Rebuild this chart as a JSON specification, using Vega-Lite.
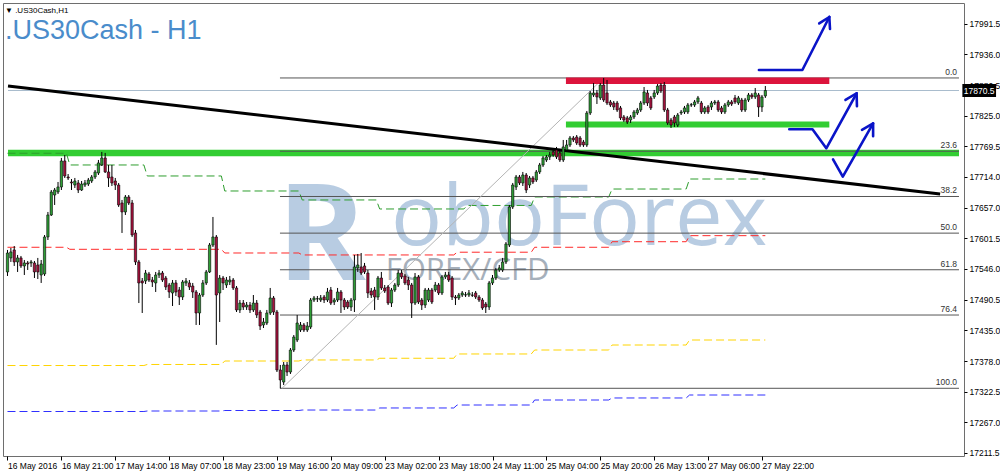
{
"$schema":"https://vega.github.io/schema/vega-lite/v6.json",
"width":961,"height":453,
"autosize":{"type":"none"},
"padding":{"left":3,"top":3,"right":36,"bottom":19},
"background":"white",
"title":{"text":"▼ .US30Cash,H1","subtitle":".US30Cash - H1","anchor":"start","frame":"group","orient":"top","offset":-41,"dx":2,"font":"Liberation Sans","fontSize":8,"fontWeight":"normal","color":"#000000","subtitleFont":"Liberation Sans","subtitleFontSize":27,"subtitleColor":"#4A8CCB","subtitlePadding":3},
"config":{"view":{"stroke":"#6E6E6E","strokeWidth":1},
 "axis":{"labelFont":"Liberation Sans","labelFontSize":8.5,"labelColor":"#000000","tickColor":"#000000","domain":false,"grid":false,"labelOverlap":false,"labelFlush":false,"labelBound":false}},
"datasets":{
"candles":[
{"i":0,"o":17540.6,"h":17580.6,"l":17533.3,"c":17575.1},
{"i":1,"o":17566.1,"h":17584.2,"l":17558.8,"c":17577.0},
{"i":2,"o":17580.6,"h":17587.8,"l":17551.5,"c":17558.8},
{"i":3,"o":17558.8,"h":17571.5,"l":17540.6,"c":17566.1},
{"i":4,"o":17566.1,"h":17569.7,"l":17547.9,"c":17551.5},
{"i":5,"o":17551.5,"h":17562.4,"l":17535.1,"c":17557.0},
{"i":6,"o":17557.0,"h":17560.6,"l":17544.2,"c":17555.1},
{"i":7,"o":17557.0,"h":17562.4,"l":17549.7,"c":17558.8},
{"i":8,"o":17557.0,"h":17560.6,"l":17529.6,"c":17540.6},
{"i":9,"o":17553.3,"h":17566.1,"l":17527.8,"c":17540.6},
{"i":10,"o":17535.1,"h":17562.4,"l":17520.6,"c":17555.1},
{"i":11,"o":17536.9,"h":17607.8,"l":17533.3,"c":17604.2},
{"i":12,"o":17604.2,"h":17649.7,"l":17598.7,"c":17644.2},
{"i":13,"o":17644.2,"h":17689.6,"l":17642.4,"c":17686.0},
{"i":14,"o":17680.5,"h":17693.3,"l":17662.4,"c":17689.6},
{"i":15,"o":17686.0,"h":17704.2,"l":17682.3,"c":17695.1},
{"i":16,"o":17695.1,"h":17747.9,"l":17689.6,"c":17742.4},
{"i":17,"o":17742.4,"h":17753.3,"l":17711.5,"c":17715.1},
{"i":18,"o":17713.3,"h":17718.7,"l":17707.8,"c":17711.5},
{"i":19,"o":17704.2,"h":17709.6,"l":17689.6,"c":17702.4},
{"i":20,"o":17698.7,"h":17711.5,"l":17693.3,"c":17706.0},
{"i":21,"o":17702.4,"h":17707.8,"l":17684.1,"c":17689.6},
{"i":22,"o":17689.6,"h":17706.0,"l":17687.8,"c":17700.5},
{"i":23,"o":17698.7,"h":17707.8,"l":17695.1,"c":17702.4},
{"i":24,"o":17700.5,"h":17711.5,"l":17696.9,"c":17707.8},
{"i":25,"o":17706.0,"h":17716.9,"l":17702.4,"c":17713.3},
{"i":26,"o":17713.3,"h":17726.0,"l":17709.6,"c":17722.4},
{"i":27,"o":17720.5,"h":17744.2,"l":17716.9,"c":17738.8},
{"i":28,"o":17735.1,"h":17758.8,"l":17733.3,"c":17747.9},
{"i":29,"o":17747.9,"h":17757.0,"l":17720.5,"c":17722.4},
{"i":30,"o":17722.4,"h":17735.1,"l":17695.1,"c":17711.5},
{"i":31,"o":17713.3,"h":17735.1,"l":17696.9,"c":17702.4},
{"i":32,"o":17706.0,"h":17711.5,"l":17689.6,"c":17698.7},
{"i":33,"o":17698.7,"h":17702.4,"l":17658.8,"c":17662.4},
{"i":34,"o":17666.0,"h":17671.5,"l":17611.5,"c":17649.7},
{"i":35,"o":17649.7,"h":17680.5,"l":17644.2,"c":17676.9},
{"i":36,"o":17676.9,"h":17680.5,"l":17662.4,"c":17666.0},
{"i":37,"o":17666.0,"h":17671.5,"l":17604.2,"c":17607.8},
{"i":38,"o":17611.5,"h":17616.9,"l":17553.3,"c":17558.8},
{"i":39,"o":17558.8,"h":17562.4,"l":17484.1,"c":17520.6},
{"i":40,"o":17524.2,"h":17529.6,"l":17466.0,"c":17520.6},
{"i":41,"o":17524.2,"h":17544.2,"l":17518.7,"c":17538.7},
{"i":42,"o":17536.9,"h":17540.6,"l":17522.4,"c":17526.0},
{"i":43,"o":17526.0,"h":17531.5,"l":17513.3,"c":17522.4},
{"i":44,"o":17520.6,"h":17540.6,"l":17504.2,"c":17535.1},
{"i":45,"o":17535.1,"h":17544.2,"l":17529.6,"c":17538.7},
{"i":46,"o":17538.7,"h":17542.4,"l":17522.4,"c":17526.0},
{"i":47,"o":17529.6,"h":17533.3,"l":17507.8,"c":17513.3},
{"i":48,"o":17516.9,"h":17520.6,"l":17493.3,"c":17504.2},
{"i":49,"o":17502.4,"h":17526.0,"l":17478.7,"c":17520.6},
{"i":50,"o":17520.6,"h":17526.0,"l":17496.9,"c":17504.2},
{"i":51,"o":17507.8,"h":17513.3,"l":17480.5,"c":17495.1},
{"i":52,"o":17495.1,"h":17526.0,"l":17489.6,"c":17522.4},
{"i":53,"o":17520.6,"h":17529.6,"l":17515.1,"c":17524.2},
{"i":54,"o":17520.6,"h":17526.0,"l":17507.8,"c":17513.3},
{"i":55,"o":17515.1,"h":17520.6,"l":17493.3,"c":17504.2},
{"i":56,"o":17504.2,"h":17507.8,"l":17444.2,"c":17466.0},
{"i":57,"o":17466.0,"h":17502.4,"l":17444.2,"c":17498.7},
{"i":58,"o":17498.7,"h":17526.0,"l":17495.1,"c":17520.6},
{"i":59,"o":17520.6,"h":17544.2,"l":17516.9,"c":17540.6},
{"i":60,"o":17540.6,"h":17593.3,"l":17538.7,"c":17589.6},
{"i":61,"o":17589.6,"h":17640.6,"l":17586.0,"c":17604.2},
{"i":62,"o":17604.2,"h":17607.8,"l":17408.0,"c":17498.7},
{"i":63,"o":17502.4,"h":17535.1,"l":17449.6,"c":17529.6},
{"i":64,"o":17529.6,"h":17533.3,"l":17507.8,"c":17520.6},
{"i":65,"o":17516.9,"h":17531.5,"l":17511.5,"c":17526.0},
{"i":66,"o":17522.4,"h":17533.3,"l":17516.9,"c":17526.0},
{"i":67,"o":17526.0,"h":17529.6,"l":17507.8,"c":17511.5},
{"i":68,"o":17511.5,"h":17515.1,"l":17467.8,"c":17471.5},
{"i":69,"o":17471.5,"h":17489.6,"l":17466.0,"c":17484.1},
{"i":70,"o":17484.1,"h":17489.6,"l":17471.5,"c":17476.9},
{"i":71,"o":17476.9,"h":17486.0,"l":17471.5,"c":17480.5},
{"i":72,"o":17480.5,"h":17486.0,"l":17466.0,"c":17471.5},
{"i":73,"o":17471.5,"h":17498.7,"l":17467.8,"c":17484.1},
{"i":74,"o":17484.1,"h":17489.6,"l":17456.9,"c":17462.4},
{"i":75,"o":17467.8,"h":17471.5,"l":17435.1,"c":17442.4},
{"i":76,"o":17444.2,"h":17456.9,"l":17438.7,"c":17449.6},
{"i":77,"o":17447.8,"h":17471.5,"l":17444.2,"c":17466.0},
{"i":78,"o":17466.0,"h":17511.5,"l":17462.4,"c":17493.3},
{"i":79,"o":17493.3,"h":17496.9,"l":17462.4,"c":17467.8},
{"i":80,"o":17467.8,"h":17471.5,"l":17358.7,"c":17362.4},
{"i":81,"o":17362.4,"h":17371.5,"l":17329.1,"c":17344.2},
{"i":82,"o":17340.5,"h":17376.9,"l":17335.1,"c":17371.5},
{"i":83,"o":17371.5,"h":17376.9,"l":17351.5,"c":17358.7},
{"i":84,"o":17358.7,"h":17402.3,"l":17355.1,"c":17398.7},
{"i":85,"o":17398.7,"h":17426.0,"l":17395.1,"c":17422.3},
{"i":86,"o":17416.9,"h":17462.4,"l":17413.2,"c":17447.8},
{"i":87,"o":17435.1,"h":17449.6,"l":17431.5,"c":17444.2},
{"i":88,"o":17444.2,"h":17447.8,"l":17431.5,"c":17435.1},
{"i":89,"o":17435.1,"h":17449.6,"l":17431.5,"c":17442.4},
{"i":90,"o":17440.5,"h":17493.3,"l":17436.9,"c":17489.6},
{"i":91,"o":17489.6,"h":17496.9,"l":17486.0,"c":17493.3},
{"i":92,"o":17491.5,"h":17496.9,"l":17486.0,"c":17492.0},
{"i":93,"o":17489.6,"h":17498.7,"l":17486.0,"c":17493.3},
{"i":94,"o":17495.1,"h":17498.7,"l":17484.1,"c":17489.6},
{"i":95,"o":17489.6,"h":17511.5,"l":17486.0,"c":17504.2},
{"i":96,"o":17507.8,"h":17513.3,"l":17480.5,"c":17484.1},
{"i":97,"o":17486.0,"h":17493.3,"l":17480.5,"c":17489.6},
{"i":98,"o":17489.6,"h":17511.5,"l":17486.0,"c":17504.2},
{"i":99,"o":17504.2,"h":17507.8,"l":17466.0,"c":17489.6},
{"i":100,"o":17489.6,"h":17493.3,"l":17471.5,"c":17476.9},
{"i":101,"o":17486.0,"h":17489.6,"l":17473.3,"c":17476.9},
{"i":102,"o":17476.9,"h":17493.3,"l":17469.6,"c":17489.6},
{"i":103,"o":17489.6,"h":17571.5,"l":17467.8,"c":17549.7},
{"i":104,"o":17547.9,"h":17573.3,"l":17540.6,"c":17553.3},
{"i":105,"o":17549.7,"h":17575.1,"l":17535.1,"c":17538.7},
{"i":106,"o":17551.5,"h":17557.0,"l":17536.9,"c":17540.6},
{"i":107,"o":17538.7,"h":17544.2,"l":17493.3,"c":17502.4},
{"i":108,"o":17506.0,"h":17511.5,"l":17493.3,"c":17498.7},
{"i":109,"o":17507.8,"h":17513.3,"l":17471.5,"c":17495.1},
{"i":110,"o":17495.1,"h":17533.3,"l":17489.6,"c":17529.6},
{"i":111,"o":17529.6,"h":17540.6,"l":17507.8,"c":17511.5},
{"i":112,"o":17511.5,"h":17516.9,"l":17502.4,"c":17506.0},
{"i":113,"o":17513.3,"h":17516.9,"l":17480.5,"c":17484.1},
{"i":114,"o":17484.1,"h":17511.5,"l":17476.9,"c":17507.8},
{"i":115,"o":17507.8,"h":17520.6,"l":17504.2,"c":17516.9},
{"i":116,"o":17516.9,"h":17544.2,"l":17513.3,"c":17538.7},
{"i":117,"o":17538.7,"h":17544.2,"l":17527.8,"c":17531.5},
{"i":118,"o":17533.3,"h":17536.9,"l":17516.9,"c":17520.6},
{"i":119,"o":17526.0,"h":17531.5,"l":17507.8,"c":17516.9},
{"i":120,"o":17516.9,"h":17520.6,"l":17456.9,"c":17484.1},
{"i":121,"o":17484.1,"h":17538.7,"l":17480.5,"c":17531.5},
{"i":122,"o":17531.5,"h":17535.1,"l":17482.3,"c":17486.0},
{"i":123,"o":17489.6,"h":17493.3,"l":17471.5,"c":17480.5},
{"i":124,"o":17480.5,"h":17511.5,"l":17475.1,"c":17507.8},
{"i":125,"o":17489.6,"h":17511.5,"l":17486.0,"c":17507.8},
{"i":126,"o":17507.8,"h":17511.5,"l":17482.3,"c":17486.0},
{"i":127,"o":17507.8,"h":17522.4,"l":17504.2,"c":17516.9},
{"i":128,"o":17516.9,"h":17520.6,"l":17498.7,"c":17502.4},
{"i":129,"o":17502.4,"h":17535.1,"l":17498.7,"c":17531.5},
{"i":130,"o":17531.5,"h":17540.6,"l":17527.8,"c":17535.1},
{"i":131,"o":17535.1,"h":17540.6,"l":17522.4,"c":17526.0},
{"i":132,"o":17529.6,"h":17533.3,"l":17489.6,"c":17495.1},
{"i":133,"o":17495.1,"h":17498.7,"l":17480.5,"c":17493.3},
{"i":134,"o":17493.3,"h":17502.4,"l":17489.6,"c":17498.7},
{"i":135,"o":17498.7,"h":17506.0,"l":17495.1,"c":17502.4},
{"i":136,"o":17498.7,"h":17504.2,"l":17495.1,"c":17499.2},
{"i":137,"o":17498.7,"h":17507.8,"l":17495.1,"c":17502.4},
{"i":138,"o":17498.7,"h":17504.2,"l":17495.1,"c":17498.2},
{"i":139,"o":17502.4,"h":17506.0,"l":17491.5,"c":17495.1},
{"i":140,"o":17495.1,"h":17498.7,"l":17486.0,"c":17489.6},
{"i":141,"o":17489.6,"h":17493.3,"l":17471.5,"c":17475.1},
{"i":142,"o":17482.3,"h":17486.0,"l":17466.0,"c":17476.9},
{"i":143,"o":17476.9,"h":17524.2,"l":17471.5,"c":17520.6},
{"i":144,"o":17520.6,"h":17535.1,"l":17516.9,"c":17529.6},
{"i":145,"o":17529.6,"h":17547.9,"l":17526.0,"c":17544.2},
{"i":146,"o":17544.2,"h":17553.3,"l":17540.6,"c":17547.9},
{"i":147,"o":17544.2,"h":17566.1,"l":17540.6,"c":17558.8},
{"i":148,"o":17558.8,"h":17595.1,"l":17555.1,"c":17591.5},
{"i":149,"o":17589.6,"h":17662.4,"l":17586.0,"c":17658.8},
{"i":150,"o":17658.8,"h":17702.4,"l":17655.1,"c":17698.7},
{"i":151,"o":17695.1,"h":17716.9,"l":17689.6,"c":17713.3},
{"i":152,"o":17713.3,"h":17716.9,"l":17698.7,"c":17702.4},
{"i":153,"o":17702.4,"h":17722.4,"l":17696.9,"c":17716.9},
{"i":154,"o":17716.9,"h":17720.5,"l":17684.1,"c":17689.6},
{"i":155,"o":17698.7,"h":17715.1,"l":17693.3,"c":17711.5},
{"i":156,"o":17711.5,"h":17715.1,"l":17700.5,"c":17704.2},
{"i":157,"o":17707.8,"h":17726.0,"l":17704.2,"c":17722.4},
{"i":158,"o":17722.4,"h":17738.8,"l":17718.7,"c":17735.1},
{"i":159,"o":17735.1,"h":17751.5,"l":17731.5,"c":17747.9},
{"i":160,"o":17744.2,"h":17753.3,"l":17740.6,"c":17749.7},
{"i":161,"o":17749.7,"h":17758.8,"l":17744.2,"c":17753.3},
{"i":162,"o":17758.8,"h":17762.4,"l":17749.7,"c":17753.3},
{"i":163,"o":17762.4,"h":17767.9,"l":17746.0,"c":17749.7},
{"i":164,"o":17757.0,"h":17764.2,"l":17740.6,"c":17744.2},
{"i":165,"o":17744.2,"h":17780.6,"l":17740.6,"c":17767.9},
{"i":166,"o":17762.4,"h":17780.6,"l":17758.8,"c":17771.5},
{"i":167,"o":17771.5,"h":17787.8,"l":17767.9,"c":17784.2},
{"i":168,"o":17784.2,"h":17787.8,"l":17776.9,"c":17780.6},
{"i":169,"o":17786.0,"h":17789.6,"l":17771.5,"c":17775.1},
{"i":170,"o":17784.2,"h":17787.8,"l":17767.9,"c":17771.5},
{"i":171,"o":17776.9,"h":17780.6,"l":17767.9,"c":17771.5},
{"i":172,"o":17771.5,"h":17833.3,"l":17767.9,"c":17829.6},
{"i":173,"o":17829.6,"h":17869.7,"l":17826.0,"c":17866.0},
{"i":174,"o":17862.4,"h":17884.1,"l":17858.8,"c":17866.0},
{"i":175,"o":17866.0,"h":17871.5,"l":17846.0,"c":17858.8},
{"i":176,"o":17857.0,"h":17884.1,"l":17853.3,"c":17880.5},
{"i":177,"o":17880.5,"h":17893.3,"l":17849.7,"c":17853.3},
{"i":178,"o":17866.0,"h":17889.6,"l":17844.2,"c":17847.8},
{"i":179,"o":17849.7,"h":17853.3,"l":17840.6,"c":17844.2},
{"i":180,"o":17847.8,"h":17851.5,"l":17835.1,"c":17840.6},
{"i":181,"o":17847.8,"h":17851.5,"l":17831.5,"c":17835.1},
{"i":182,"o":17838.8,"h":17842.4,"l":17816.9,"c":17820.6},
{"i":183,"o":17822.4,"h":17826.0,"l":17813.3,"c":17816.9},
{"i":184,"o":17820.6,"h":17824.2,"l":17809.6,"c":17813.3},
{"i":185,"o":17816.9,"h":17826.0,"l":17811.5,"c":17822.4},
{"i":186,"o":17822.4,"h":17835.1,"l":17818.7,"c":17831.5},
{"i":187,"o":17829.6,"h":17838.8,"l":17826.0,"c":17835.1},
{"i":188,"o":17835.1,"h":17851.5,"l":17831.5,"c":17847.8},
{"i":189,"o":17847.8,"h":17876.9,"l":17844.2,"c":17867.9},
{"i":190,"o":17866.0,"h":17871.5,"l":17842.4,"c":17847.8},
{"i":191,"o":17857.0,"h":17860.6,"l":17835.1,"c":17838.8},
{"i":192,"o":17858.8,"h":17871.5,"l":17855.1,"c":17866.0},
{"i":193,"o":17866.0,"h":17882.3,"l":17862.4,"c":17878.7},
{"i":194,"o":17880.5,"h":17884.1,"l":17866.0,"c":17869.7},
{"i":195,"o":17880.5,"h":17885.9,"l":17831.5,"c":17835.1},
{"i":196,"o":17835.1,"h":17838.8,"l":17807.8,"c":17811.5},
{"i":197,"o":17816.9,"h":17820.6,"l":17802.4,"c":17807.8},
{"i":198,"o":17822.4,"h":17826.0,"l":17804.2,"c":17811.5},
{"i":199,"o":17807.8,"h":17829.6,"l":17804.2,"c":17826.0},
{"i":200,"o":17829.6,"h":17835.1,"l":17826.0,"c":17831.5},
{"i":201,"o":17831.5,"h":17842.4,"l":17827.8,"c":17838.8},
{"i":202,"o":17831.5,"h":17847.8,"l":17827.8,"c":17844.2},
{"i":203,"o":17844.2,"h":17847.8,"l":17840.6,"c":17844.7},
{"i":204,"o":17844.2,"h":17853.3,"l":17840.6,"c":17849.7},
{"i":205,"o":17849.7,"h":17860.6,"l":17846.0,"c":17857.0},
{"i":206,"o":17847.8,"h":17851.5,"l":17827.8,"c":17831.5},
{"i":207,"o":17831.5,"h":17842.4,"l":17827.8,"c":17838.8},
{"i":208,"o":17840.6,"h":17844.2,"l":17827.8,"c":17831.5},
{"i":209,"o":17840.6,"h":17851.5,"l":17835.1,"c":17847.8},
{"i":210,"o":17847.8,"h":17853.3,"l":17844.2,"c":17849.7},
{"i":211,"o":17849.7,"h":17853.3,"l":17831.5,"c":17835.1},
{"i":212,"o":17838.8,"h":17842.4,"l":17827.8,"c":17831.5},
{"i":213,"o":17831.5,"h":17847.8,"l":17827.8,"c":17844.2},
{"i":214,"o":17844.2,"h":17853.3,"l":17840.6,"c":17849.7},
{"i":215,"o":17849.7,"h":17853.3,"l":17842.4,"c":17846.0},
{"i":216,"o":17857.0,"h":17862.4,"l":17846.0,"c":17849.7},
{"i":217,"o":17847.8,"h":17860.6,"l":17844.2,"c":17857.0},
{"i":218,"o":17853.3,"h":17857.0,"l":17831.5,"c":17835.1},
{"i":219,"o":17835.1,"h":17857.0,"l":17831.5,"c":17853.3},
{"i":220,"o":17853.3,"h":17866.0,"l":17849.7,"c":17862.4},
{"i":221,"o":17862.4,"h":17866.0,"l":17855.1,"c":17858.8},
{"i":222,"o":17858.8,"h":17875.1,"l":17855.1,"c":17866.0},
{"i":223,"o":17862.4,"h":17866.0,"l":17822.4,"c":17840.6},
{"i":224,"o":17840.6,"h":17862.4,"l":17831.5,"c":17858.8},
{"i":225,"o":17860.6,"h":17878.7,"l":17857.0,"c":17870.5}
],
"steps":[
{"s":"g","i":0,"p":17756.4},{"s":"g","i":17.5,"p":17756.4},{"s":"g","i":18.5,"p":17735.1},{"s":"g","i":40.5,"p":17735.1},{"s":"g","i":41.5,"p":17715.1},{"s":"g","i":63.5,"p":17715.1},{"s":"g","i":64.5,"p":17687.8},{"s":"g","i":86.5,"p":17687.8},{"s":"g","i":87.5,"p":17671.5},{"s":"g","i":109.5,"p":17671.5},{"s":"g","i":110.5,"p":17655.1},{"s":"g","i":135.5,"p":17655.1},{"s":"g","i":136.5,"p":17661.5},{"s":"g","i":155.5,"p":17661.5},{"s":"g","i":156.5,"p":17676.9},{"s":"g","i":178.5,"p":17676.9},{"s":"g","i":179.5,"p":17691.4},{"s":"g","i":201.5,"p":17691.4},{"s":"g","i":202.5,"p":17709.6},{"s":"g","i":225,"p":17709.6},
{"s":"r","i":0,"p":17585.5},{"s":"r","i":17.5,"p":17585.5},{"s":"r","i":18.5,"p":17581.8},{"s":"r","i":63.5,"p":17581.8},{"s":"r","i":64.5,"p":17575.1},{"s":"r","i":86.5,"p":17575.1},{"s":"r","i":87.5,"p":17571.5},{"s":"r","i":132.5,"p":17571.5},{"s":"r","i":133.5,"p":17576.5},{"s":"r","i":155.5,"p":17576.5},{"s":"r","i":156.5,"p":17585.5},{"s":"r","i":178.5,"p":17585.5},{"s":"r","i":179.5,"p":17595.6},{"s":"r","i":201.5,"p":17595.6},{"s":"r","i":202.5,"p":17606.6},{"s":"r","i":225,"p":17606.6},
{"s":"y","i":0,"p":17370.5},{"s":"y","i":40.5,"p":17370.5},{"s":"y","i":41.5,"p":17372.4},{"s":"y","i":63.5,"p":17372.4},{"s":"y","i":64.5,"p":17378.7},{"s":"y","i":86.5,"p":17378.7},{"s":"y","i":87.5,"p":17380.6},{"s":"y","i":109.5,"p":17380.6},{"s":"y","i":110.5,"p":17383.7},{"s":"y","i":132.5,"p":17383.7},{"s":"y","i":133.5,"p":17391.5},{"s":"y","i":155.5,"p":17391.5},{"s":"y","i":156.5,"p":17398.7},{"s":"y","i":178.5,"p":17398.7},{"s":"y","i":179.5,"p":17407.8},{"s":"y","i":201.5,"p":17407.8},{"s":"y","i":202.5,"p":17416.9},{"s":"y","i":225,"p":17416.9},
{"s":"b","i":0,"p":17286.9},{"s":"b","i":40.5,"p":17286.9},{"s":"b","i":41.5,"p":17287.8},{"s":"b","i":63.5,"p":17287.8},{"s":"b","i":64.5,"p":17288.7},{"s":"b","i":86.5,"p":17288.7},{"s":"b","i":87.5,"p":17289.6},{"s":"b","i":109.5,"p":17289.6},{"s":"b","i":110.5,"p":17293.3},{"s":"b","i":132.5,"p":17293.3},{"s":"b","i":133.5,"p":17298.7},{"s":"b","i":155.5,"p":17298.7},{"s":"b","i":156.5,"p":17307.8},{"s":"b","i":178.5,"p":17307.8},{"s":"b","i":179.5,"p":17311.5},{"s":"b","i":201.5,"p":17311.5},{"s":"b","i":202.5,"p":17316.9},{"s":"b","i":225,"p":17316.9}
],
"hl":[
{"k":"band","i":0.15,"i2":282.5,"p":17757.0},
{"k":"red","i":165.8,"i2":244.0,"p":17888.1},
{"k":"grn","i":165.8,"i2":244.0,"p":17808.7},
{"k":"cur","i":0.15,"i2":282.5,"p":17870.5}
],
"fib":[
{"lvl":"0.0","i":80.9,"i2":282.5,"p":17893.3},
{"lvl":"23.6","i":80.9,"i2":282.5,"p":17760.1},
{"lvl":"38.2","i":80.9,"i2":282.5,"p":17677.8},
{"lvl":"50.0","i":80.9,"i2":282.5,"p":17611.2},
{"lvl":"61.8","i":80.9,"i2":282.5,"p":17544.6},
{"lvl":"76.4","i":80.9,"i2":282.5,"p":17462.3},
{"lvl":"100.0","i":80.9,"i2":282.5,"p":17329.1}
],
"fibdiag":[{"i":81.5,"p":17329.1},{"i":177.0,"p":17893.3}],
"trend":[{"i":0.15,"p":17878.7},{"i":276.9,"p":17682.3}],
"arrows":[
{"g":"a1","k":0,"i":223.1,"p":17907.8},{"g":"a1","k":1,"i":236.0,"p":17907.8},{"g":"a1","k":2,"i":244.0,"p":18004.2},
{"g":"h1","k":0,"i":241.0,"p":17992.4},{"g":"h1","k":1,"i":244.0,"p":18004.2},{"g":"h1","k":2,"i":244.2,"p":17982.4},
{"g":"a2","k":0,"i":232.1,"p":17800.0},{"g":"a2","k":1,"i":239.0,"p":17800.0},{"g":"a2","k":2,"i":243.1,"p":17765.5},{"g":"a2","k":3,"i":252.1,"p":17865.5},
{"g":"h2","k":0,"i":248.8,"p":17853.3},{"g":"h2","k":1,"i":252.1,"p":17865.5},{"g":"h2","k":2,"i":252.2,"p":17841.8},
{"g":"a3","k":0,"i":245.1,"p":17745.5},{"g":"a3","k":1,"i":248.0,"p":17713.8},{"g":"a3","k":2,"i":257.0,"p":17810.9},
{"g":"h3","k":0,"i":253.7,"p":17799.1},{"g":"h3","k":1,"i":257.0,"p":17810.9},{"g":"h3","k":2,"i":257.0,"p":17787.3}
],
"wm":[
{"t":"R","i":93.2,"p":17526.0},
{"t":"oboForex","i":169.7,"p":17589.6},
{"t":"FOREX/CFD","i":136.6,"p":17526.0}
],
"box":[{"i":283.5,"i2":293.5,"p":17858.7,"p2":17882.3,"ic":288.5,"pc":17870.5,"t":"17870.5"}]
},
"layer":[
{"data":{"name":"wm"},"transform":[{"filter":"datum.t=='R'"}],
 "mark":{"type":"text","font":"Open Sans","fontWeight":"bold","fontSize":135,"fill":"#B8CCE2","align":"center","baseline":"alphabetic"},
 "encoding":{"x":{"field":"i","type":"quantitative","scale":{"domain":[0.15,282.5],"nice":false,"zero":false},"axis":{"orient":"bottom","values":[0,16,32,48,64,80,96,112,128,144,160,176,192,208,224],"labelExpr":"['16 May 2016','16 May 21:00','17 May 14:00','18 May 07:00','18 May 23:00','19 May 16:00','20 May 09:00','23 May 02:00','23 May 18:00','24 May 11:00','25 May 04:00','25 May 20:00','26 May 13:00','27 May 06:00','27 May 22:00'][round(datum.value/16)]","labelAlign":"left","tickSize":4,"labelPadding":1,"title":null}},
  "y":{"field":"p","type":"quantitative","scale":{"domain":[17206,18029.6],"nice":false,"zero":false},"axis":{"orient":"right","values":[17211.5,17267.0,17322.5,17378.0,17435.0,17490.5,17546.0,17601.5,17657.0,17714.0,17769.5,17825.0,17880.5,17936.0,17991.5],"format":".1f","tickSize":3,"labelPadding":2,"title":null}},
  "text":{"field":"t"}}},
{"data":{"name":"wm"},"transform":[{"filter":"datum.t=='oboForex'"}],
 "mark":{"type":"text","font":"Open Sans","fontSize":85,"fill":"#B8CCE2","align":"center","baseline":"alphabetic"},
 "encoding":{"x":{"field":"i","type":"quantitative","scale":{"domain":[0.15,282.5],"nice":false,"zero":false},"axis":{"orient":"bottom","values":[0,16,32,48,64,80,96,112,128,144,160,176,192,208,224],"labelExpr":"['16 May 2016','16 May 21:00','17 May 14:00','18 May 07:00','18 May 23:00','19 May 16:00','20 May 09:00','23 May 02:00','23 May 18:00','24 May 11:00','25 May 04:00','25 May 20:00','26 May 13:00','27 May 06:00','27 May 22:00'][round(datum.value/16)]","labelAlign":"left","tickSize":4,"labelPadding":1,"title":null}},
  "y":{"field":"p","type":"quantitative","scale":{"domain":[17206,18029.6],"nice":false,"zero":false},"axis":{"orient":"right","values":[17211.5,17267.0,17322.5,17378.0,17435.0,17490.5,17546.0,17601.5,17657.0,17714.0,17769.5,17825.0,17880.5,17936.0,17991.5],"format":".1f","tickSize":3,"labelPadding":2,"title":null}},
  "text":{"field":"t"}}},
{"data":{"name":"wm"},"transform":[{"filter":"datum.t=='FOREX/CFD'"}],
 "mark":{"type":"text","font":"Open Sans","fontSize":31,"fill":"#A6B0BB","align":"center","baseline":"alphabetic"},
 "encoding":{"x":{"field":"i","type":"quantitative","scale":{"domain":[0.15,282.5],"nice":false,"zero":false},"axis":{"orient":"bottom","values":[0,16,32,48,64,80,96,112,128,144,160,176,192,208,224],"labelExpr":"['16 May 2016','16 May 21:00','17 May 14:00','18 May 07:00','18 May 23:00','19 May 16:00','20 May 09:00','23 May 02:00','23 May 18:00','24 May 11:00','25 May 04:00','25 May 20:00','26 May 13:00','27 May 06:00','27 May 22:00'][round(datum.value/16)]","labelAlign":"left","tickSize":4,"labelPadding":1,"title":null}},
  "y":{"field":"p","type":"quantitative","scale":{"domain":[17206,18029.6],"nice":false,"zero":false},"axis":{"orient":"right","values":[17211.5,17267.0,17322.5,17378.0,17435.0,17490.5,17546.0,17601.5,17657.0,17714.0,17769.5,17825.0,17880.5,17936.0,17991.5],"format":".1f","tickSize":3,"labelPadding":2,"title":null}},
  "text":{"field":"t"}}},
{"data":{"name":"hl"},"transform":[{"filter":"datum.k=='band'"}],
 "mark":{"type":"rule","color":"#32CD32","strokeWidth":6.5},
 "encoding":{"x":{"field":"i","type":"quantitative","scale":{"domain":[0.15,282.5],"nice":false,"zero":false},"axis":{"orient":"bottom","values":[0,16,32,48,64,80,96,112,128,144,160,176,192,208,224],"labelExpr":"['16 May 2016','16 May 21:00','17 May 14:00','18 May 07:00','18 May 23:00','19 May 16:00','20 May 09:00','23 May 02:00','23 May 18:00','24 May 11:00','25 May 04:00','25 May 20:00','26 May 13:00','27 May 06:00','27 May 22:00'][round(datum.value/16)]","labelAlign":"left","tickSize":4,"labelPadding":1,"title":null}},"x2":{"field":"i2"},
  "y":{"field":"p","type":"quantitative","scale":{"domain":[17206,18029.6],"nice":false,"zero":false},"axis":{"orient":"right","values":[17211.5,17267.0,17322.5,17378.0,17435.0,17490.5,17546.0,17601.5,17657.0,17714.0,17769.5,17825.0,17880.5,17936.0,17991.5],"format":".1f","tickSize":3,"labelPadding":2,"title":null}}}},
{"data":{"name":"steps"},
 "mark":{"type":"line","strokeWidth":1,"strokeDash":[8,4]},
 "encoding":{"x":{"field":"i","type":"quantitative","scale":{"domain":[0.15,282.5],"nice":false,"zero":false},"axis":{"orient":"bottom","values":[0,16,32,48,64,80,96,112,128,144,160,176,192,208,224],"labelExpr":"['16 May 2016','16 May 21:00','17 May 14:00','18 May 07:00','18 May 23:00','19 May 16:00','20 May 09:00','23 May 02:00','23 May 18:00','24 May 11:00','25 May 04:00','25 May 20:00','26 May 13:00','27 May 06:00','27 May 22:00'][round(datum.value/16)]","labelAlign":"left","tickSize":4,"labelPadding":1,"title":null}},
  "y":{"field":"p","type":"quantitative","scale":{"domain":[17206,18029.6],"nice":false,"zero":false},"axis":{"orient":"right","values":[17211.5,17267.0,17322.5,17378.0,17435.0,17490.5,17546.0,17601.5,17657.0,17714.0,17769.5,17825.0,17880.5,17936.0,17991.5],"format":".1f","tickSize":3,"labelPadding":2,"title":null}},
  "detail":{"field":"s"},
  "color":{"field":"s","type":"nominal","scale":{"domain":["g","r","y","b"],"range":["#2E9E2E","#FF2A2A","#FFD400","#3030FF"]},"legend":null}}},
{"data":{"name":"hl"},"transform":[{"filter":"datum.k=='cur'"}],
 "mark":{"type":"rule","color":"#A9BCCD","strokeWidth":1},
 "encoding":{"x":{"field":"i","type":"quantitative","scale":{"domain":[0.15,282.5],"nice":false,"zero":false},"axis":{"orient":"bottom","values":[0,16,32,48,64,80,96,112,128,144,160,176,192,208,224],"labelExpr":"['16 May 2016','16 May 21:00','17 May 14:00','18 May 07:00','18 May 23:00','19 May 16:00','20 May 09:00','23 May 02:00','23 May 18:00','24 May 11:00','25 May 04:00','25 May 20:00','26 May 13:00','27 May 06:00','27 May 22:00'][round(datum.value/16)]","labelAlign":"left","tickSize":4,"labelPadding":1,"title":null}},"x2":{"field":"i2"},
  "y":{"field":"p","type":"quantitative","scale":{"domain":[17206,18029.6],"nice":false,"zero":false},"axis":{"orient":"right","values":[17211.5,17267.0,17322.5,17378.0,17435.0,17490.5,17546.0,17601.5,17657.0,17714.0,17769.5,17825.0,17880.5,17936.0,17991.5],"format":".1f","tickSize":3,"labelPadding":2,"title":null}}}},
{"data":{"name":"fib"},
 "mark":{"type":"rule","color":"#555555","strokeWidth":1},
 "encoding":{"x":{"field":"i","type":"quantitative","scale":{"domain":[0.15,282.5],"nice":false,"zero":false},"axis":{"orient":"bottom","values":[0,16,32,48,64,80,96,112,128,144,160,176,192,208,224],"labelExpr":"['16 May 2016','16 May 21:00','17 May 14:00','18 May 07:00','18 May 23:00','19 May 16:00','20 May 09:00','23 May 02:00','23 May 18:00','24 May 11:00','25 May 04:00','25 May 20:00','26 May 13:00','27 May 06:00','27 May 22:00'][round(datum.value/16)]","labelAlign":"left","tickSize":4,"labelPadding":1,"title":null}},"x2":{"field":"i2"},
  "y":{"field":"p","type":"quantitative","scale":{"domain":[17206,18029.6],"nice":false,"zero":false},"axis":{"orient":"right","values":[17211.5,17267.0,17322.5,17378.0,17435.0,17490.5,17546.0,17601.5,17657.0,17714.0,17769.5,17825.0,17880.5,17936.0,17991.5],"format":".1f","tickSize":3,"labelPadding":2,"title":null}}}},
{"data":{"name":"fibdiag"},
 "mark":{"type":"line","color":"#B4B4B4","strokeWidth":1},
 "encoding":{"x":{"field":"i","type":"quantitative","scale":{"domain":[0.15,282.5],"nice":false,"zero":false},"axis":{"orient":"bottom","values":[0,16,32,48,64,80,96,112,128,144,160,176,192,208,224],"labelExpr":"['16 May 2016','16 May 21:00','17 May 14:00','18 May 07:00','18 May 23:00','19 May 16:00','20 May 09:00','23 May 02:00','23 May 18:00','24 May 11:00','25 May 04:00','25 May 20:00','26 May 13:00','27 May 06:00','27 May 22:00'][round(datum.value/16)]","labelAlign":"left","tickSize":4,"labelPadding":1,"title":null}},
  "y":{"field":"p","type":"quantitative","scale":{"domain":[17206,18029.6],"nice":false,"zero":false},"axis":{"orient":"right","values":[17211.5,17267.0,17322.5,17378.0,17435.0,17490.5,17546.0,17601.5,17657.0,17714.0,17769.5,17825.0,17880.5,17936.0,17991.5],"format":".1f","tickSize":3,"labelPadding":2,"title":null}}}},
{"data":{"name":"fib"},
 "mark":{"type":"text","font":"Liberation Sans","fontSize":8.5,"fill":"#333333","align":"right","baseline":"bottom","dx":-2,"dy":-1},
 "encoding":{"x":{"field":"i2","type":"quantitative","scale":{"domain":[0.15,282.5],"nice":false,"zero":false},"axis":{"orient":"bottom","values":[0,16,32,48,64,80,96,112,128,144,160,176,192,208,224],"labelExpr":"['16 May 2016','16 May 21:00','17 May 14:00','18 May 07:00','18 May 23:00','19 May 16:00','20 May 09:00','23 May 02:00','23 May 18:00','24 May 11:00','25 May 04:00','25 May 20:00','26 May 13:00','27 May 06:00','27 May 22:00'][round(datum.value/16)]","labelAlign":"left","tickSize":4,"labelPadding":1,"title":null}},
  "y":{"field":"p","type":"quantitative","scale":{"domain":[17206,18029.6],"nice":false,"zero":false},"axis":{"orient":"right","values":[17211.5,17267.0,17322.5,17378.0,17435.0,17490.5,17546.0,17601.5,17657.0,17714.0,17769.5,17825.0,17880.5,17936.0,17991.5],"format":".1f","tickSize":3,"labelPadding":2,"title":null}},
  "text":{"field":"lvl"}}},
{"data":{"name":"trend"},
 "mark":{"type":"line","color":"#000000","strokeWidth":3},
 "encoding":{"x":{"field":"i","type":"quantitative","scale":{"domain":[0.15,282.5],"nice":false,"zero":false},"axis":{"orient":"bottom","values":[0,16,32,48,64,80,96,112,128,144,160,176,192,208,224],"labelExpr":"['16 May 2016','16 May 21:00','17 May 14:00','18 May 07:00','18 May 23:00','19 May 16:00','20 May 09:00','23 May 02:00','23 May 18:00','24 May 11:00','25 May 04:00','25 May 20:00','26 May 13:00','27 May 06:00','27 May 22:00'][round(datum.value/16)]","labelAlign":"left","tickSize":4,"labelPadding":1,"title":null}},
  "y":{"field":"p","type":"quantitative","scale":{"domain":[17206,18029.6],"nice":false,"zero":false},"axis":{"orient":"right","values":[17211.5,17267.0,17322.5,17378.0,17435.0,17490.5,17546.0,17601.5,17657.0,17714.0,17769.5,17825.0,17880.5,17936.0,17991.5],"format":".1f","tickSize":3,"labelPadding":2,"title":null}}}},
{"data":{"name":"hl"},"transform":[{"filter":"datum.k=='red'"}],
 "mark":{"type":"rule","color":"#DC143C","strokeWidth":6.5},
 "encoding":{"x":{"field":"i","type":"quantitative","scale":{"domain":[0.15,282.5],"nice":false,"zero":false},"axis":{"orient":"bottom","values":[0,16,32,48,64,80,96,112,128,144,160,176,192,208,224],"labelExpr":"['16 May 2016','16 May 21:00','17 May 14:00','18 May 07:00','18 May 23:00','19 May 16:00','20 May 09:00','23 May 02:00','23 May 18:00','24 May 11:00','25 May 04:00','25 May 20:00','26 May 13:00','27 May 06:00','27 May 22:00'][round(datum.value/16)]","labelAlign":"left","tickSize":4,"labelPadding":1,"title":null}},"x2":{"field":"i2"},
  "y":{"field":"p","type":"quantitative","scale":{"domain":[17206,18029.6],"nice":false,"zero":false},"axis":{"orient":"right","values":[17211.5,17267.0,17322.5,17378.0,17435.0,17490.5,17546.0,17601.5,17657.0,17714.0,17769.5,17825.0,17880.5,17936.0,17991.5],"format":".1f","tickSize":3,"labelPadding":2,"title":null}}}},
{"data":{"name":"hl"},"transform":[{"filter":"datum.k=='grn'"}],
 "mark":{"type":"rule","color":"#32CD32","strokeWidth":6},
 "encoding":{"x":{"field":"i","type":"quantitative","scale":{"domain":[0.15,282.5],"nice":false,"zero":false},"axis":{"orient":"bottom","values":[0,16,32,48,64,80,96,112,128,144,160,176,192,208,224],"labelExpr":"['16 May 2016','16 May 21:00','17 May 14:00','18 May 07:00','18 May 23:00','19 May 16:00','20 May 09:00','23 May 02:00','23 May 18:00','24 May 11:00','25 May 04:00','25 May 20:00','26 May 13:00','27 May 06:00','27 May 22:00'][round(datum.value/16)]","labelAlign":"left","tickSize":4,"labelPadding":1,"title":null}},"x2":{"field":"i2"},
  "y":{"field":"p","type":"quantitative","scale":{"domain":[17206,18029.6],"nice":false,"zero":false},"axis":{"orient":"right","values":[17211.5,17267.0,17322.5,17378.0,17435.0,17490.5,17546.0,17601.5,17657.0,17714.0,17769.5,17825.0,17880.5,17936.0,17991.5],"format":".1f","tickSize":3,"labelPadding":2,"title":null}}}},
{"data":{"name":"candles"},
 "mark":{"type":"rule","color":"#000000","strokeWidth":1},
 "encoding":{"x":{"field":"i","type":"quantitative","scale":{"domain":[0.15,282.5],"nice":false,"zero":false},"axis":{"orient":"bottom","values":[0,16,32,48,64,80,96,112,128,144,160,176,192,208,224],"labelExpr":"['16 May 2016','16 May 21:00','17 May 14:00','18 May 07:00','18 May 23:00','19 May 16:00','20 May 09:00','23 May 02:00','23 May 18:00','24 May 11:00','25 May 04:00','25 May 20:00','26 May 13:00','27 May 06:00','27 May 22:00'][round(datum.value/16)]","labelAlign":"left","tickSize":4,"labelPadding":1,"title":null}},
  "y":{"field":"l","type":"quantitative","scale":{"domain":[17206,18029.6],"nice":false,"zero":false},"axis":{"orient":"right","values":[17211.5,17267.0,17322.5,17378.0,17435.0,17490.5,17546.0,17601.5,17657.0,17714.0,17769.5,17825.0,17880.5,17936.0,17991.5],"format":".1f","tickSize":3,"labelPadding":2,"title":null}},
  "y2":{"field":"h"}}},
{"data":{"name":"candles"},
 "mark":{"type":"bar","size":2.3,"stroke":"#000000","strokeWidth":0.6},
 "encoding":{"x":{"field":"i","type":"quantitative","scale":{"domain":[0.15,282.5],"nice":false,"zero":false},"axis":{"orient":"bottom","values":[0,16,32,48,64,80,96,112,128,144,160,176,192,208,224],"labelExpr":"['16 May 2016','16 May 21:00','17 May 14:00','18 May 07:00','18 May 23:00','19 May 16:00','20 May 09:00','23 May 02:00','23 May 18:00','24 May 11:00','25 May 04:00','25 May 20:00','26 May 13:00','27 May 06:00','27 May 22:00'][round(datum.value/16)]","labelAlign":"left","tickSize":4,"labelPadding":1,"title":null}},
  "y":{"field":"o","type":"quantitative","scale":{"domain":[17206,18029.6],"nice":false,"zero":false},"axis":{"orient":"right","values":[17211.5,17267.0,17322.5,17378.0,17435.0,17490.5,17546.0,17601.5,17657.0,17714.0,17769.5,17825.0,17880.5,17936.0,17991.5],"format":".1f","tickSize":3,"labelPadding":2,"title":null}},
  "y2":{"field":"c"},
  "fill":{"condition":{"test":"datum.c>=datum.o","value":"#2E9E36"},"value":"#A8123E"}}},
{"data":{"name":"arrows"},
 "mark":{"type":"line","color":"#0A14C8","strokeWidth":2.6,"strokeCap":"round","strokeJoin":"round"},
 "encoding":{"x":{"field":"i","type":"quantitative","scale":{"domain":[0.15,282.5],"nice":false,"zero":false},"axis":{"orient":"bottom","values":[0,16,32,48,64,80,96,112,128,144,160,176,192,208,224],"labelExpr":"['16 May 2016','16 May 21:00','17 May 14:00','18 May 07:00','18 May 23:00','19 May 16:00','20 May 09:00','23 May 02:00','23 May 18:00','24 May 11:00','25 May 04:00','25 May 20:00','26 May 13:00','27 May 06:00','27 May 22:00'][round(datum.value/16)]","labelAlign":"left","tickSize":4,"labelPadding":1,"title":null}},
  "y":{"field":"p","type":"quantitative","scale":{"domain":[17206,18029.6],"nice":false,"zero":false},"axis":{"orient":"right","values":[17211.5,17267.0,17322.5,17378.0,17435.0,17490.5,17546.0,17601.5,17657.0,17714.0,17769.5,17825.0,17880.5,17936.0,17991.5],"format":".1f","tickSize":3,"labelPadding":2,"title":null}},
  "detail":{"field":"g"},"order":{"field":"k","type":"quantitative"}}},
{"data":{"name":"box"},
 "mark":{"type":"rect","fill":"#000000"},
 "encoding":{"x":{"field":"i","type":"quantitative","scale":{"domain":[0.15,282.5],"nice":false,"zero":false},"axis":{"orient":"bottom","values":[0,16,32,48,64,80,96,112,128,144,160,176,192,208,224],"labelExpr":"['16 May 2016','16 May 21:00','17 May 14:00','18 May 07:00','18 May 23:00','19 May 16:00','20 May 09:00','23 May 02:00','23 May 18:00','24 May 11:00','25 May 04:00','25 May 20:00','26 May 13:00','27 May 06:00','27 May 22:00'][round(datum.value/16)]","labelAlign":"left","tickSize":4,"labelPadding":1,"title":null}},"x2":{"field":"i2"},
  "y":{"field":"p","type":"quantitative","scale":{"domain":[17206,18029.6],"nice":false,"zero":false},"axis":{"orient":"right","values":[17211.5,17267.0,17322.5,17378.0,17435.0,17490.5,17546.0,17601.5,17657.0,17714.0,17769.5,17825.0,17880.5,17936.0,17991.5],"format":".1f","tickSize":3,"labelPadding":2,"title":null}},"y2":{"field":"p2"}}},
{"data":{"name":"box"},
 "mark":{"type":"text","font":"Liberation Sans","fontSize":8.5,"fill":"#FFFFFF","align":"center","baseline":"middle"},
 "encoding":{"x":{"field":"ic","type":"quantitative","scale":{"domain":[0.15,282.5],"nice":false,"zero":false},"axis":{"orient":"bottom","values":[0,16,32,48,64,80,96,112,128,144,160,176,192,208,224],"labelExpr":"['16 May 2016','16 May 21:00','17 May 14:00','18 May 07:00','18 May 23:00','19 May 16:00','20 May 09:00','23 May 02:00','23 May 18:00','24 May 11:00','25 May 04:00','25 May 20:00','26 May 13:00','27 May 06:00','27 May 22:00'][round(datum.value/16)]","labelAlign":"left","tickSize":4,"labelPadding":1,"title":null}},
  "y":{"field":"pc","type":"quantitative","scale":{"domain":[17206,18029.6],"nice":false,"zero":false},"axis":{"orient":"right","values":[17211.5,17267.0,17322.5,17378.0,17435.0,17490.5,17546.0,17601.5,17657.0,17714.0,17769.5,17825.0,17880.5,17936.0,17991.5],"format":".1f","tickSize":3,"labelPadding":2,"title":null}},
  "text":{"field":"t"}}}
]
}
